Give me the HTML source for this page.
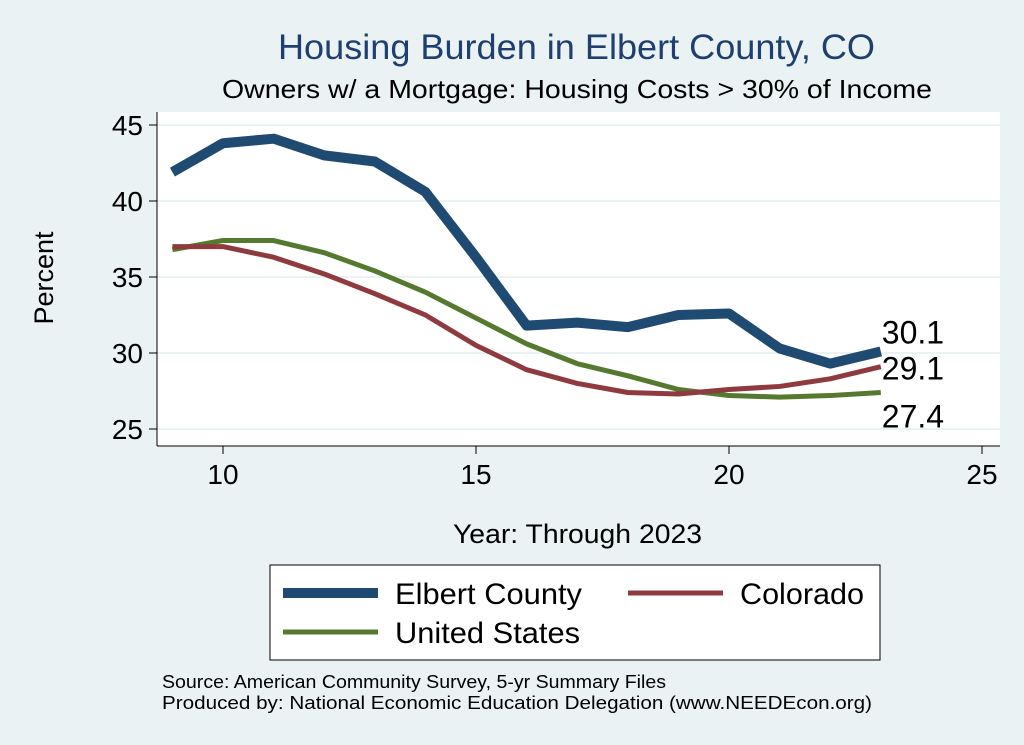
<!DOCTYPE html>
<html><head><meta charset="utf-8"><style>
body{margin:0;background:#eaf2f3;}
svg{display:block;font-family:"Liberation Sans",sans-serif;}
</style></head><body>
<svg id="c" width="1024" height="745">
<rect x="0" y="0" width="1024" height="745" fill="#eaf2f3"/>
<text x="278" y="59" font-size="35" fill="#1f3f6e" textLength="597" lengthAdjust="spacingAndGlyphs">Housing Burden in Elbert County, CO</text>
<text x="222" y="98" font-size="26" fill="#000" textLength="710" lengthAdjust="spacingAndGlyphs">Owners w/ a Mortgage: Housing Costs &gt; 30% of Income</text>
<rect x="157" y="112" width="843" height="334" fill="#fff"/>
<g id="grid"></g><g id="axes"></g><g id="series"></g>
<text x="53" y="278" font-size="27" text-anchor="middle" transform="rotate(-90 53 278)">Percent</text>
<text x="453" y="543" font-size="27" textLength="249" lengthAdjust="spacingAndGlyphs">Year: Through 2023</text>
<g>
<rect x="270" y="565" width="610" height="95" fill="#fff" stroke="#000" stroke-width="1"/>
<line x1="283" y1="593" x2="378" y2="593" stroke="#1f4a72" stroke-width="10"/>
<text x="395" y="604" font-size="30" textLength="187" lengthAdjust="spacingAndGlyphs">Elbert County</text>
<line x1="628" y1="593" x2="723" y2="593" stroke="#8f3a3e" stroke-width="5"/>
<text x="740" y="604" font-size="30" textLength="124" lengthAdjust="spacingAndGlyphs">Colorado</text>
<line x1="283" y1="632" x2="378" y2="632" stroke="#55792e" stroke-width="5"/>
<text x="395" y="643" font-size="30" textLength="185" lengthAdjust="spacingAndGlyphs">United States</text>
</g>
<text x="162" y="688" font-size="18" textLength="504" lengthAdjust="spacingAndGlyphs">Source: American Community Survey, 5-yr Summary Files</text>
<text x="162" y="709" font-size="18" textLength="710" lengthAdjust="spacingAndGlyphs">Produced by: National Economic Education Delegation (www.NEEDEcon.org)</text>
</svg>
<script>
const years=[9,10,11,12,13,14,15,16,17,18,19,20,21,22,23];
const elbert=[41.9,43.8,44.1,43.0,42.6,40.6,36.3,31.8,32.0,31.7,32.5,32.6,30.3,29.3,30.1];
const colorado=[37.0,37.0,36.3,35.2,33.9,32.5,30.5,28.9,28.0,27.4,27.3,27.6,27.8,28.3,29.1];
const us=[36.8,37.4,37.4,36.6,35.4,34.0,32.3,30.6,29.3,28.5,27.6,27.2,27.1,27.2,27.4];
const xTicks=[10,15,20,25];
const yTicks=[25,30,35,40,45];
const NS="http://www.w3.org/2000/svg";
function X(v){return 223+(v-10)*50.6;}
function Y(v){return 429-(v-25)*15.2;}
function mk(t,a,p){const e=document.createElementNS(NS,t);for(const k in a)e.setAttribute(k,a[k]);p.appendChild(e);return e;}
const grid=document.getElementById('grid'),axes=document.getElementById('axes'),ser=document.getElementById('series');
mk('line',{x1:157,y1:112,x2:157,y2:446,stroke:'#000','stroke-width':1},axes);
mk('line',{x1:157,y1:446,x2:1000,y2:446,stroke:'#000','stroke-width':1},axes);
yTicks.forEach(v=>{
 const g=mk('line',{x1:157,y1:Y(v),x2:1000,y2:Y(v),stroke:'#eaf2f3','stroke-width':2},grid);
 
 
 mk('line',{x1:149,y1:Y(v),x2:157,y2:Y(v),stroke:'#000'},axes);
 const t=mk('text',{x:143,y:Y(v)+10,'font-size':28,'text-anchor':'end'},axes);t.textContent=v;
 
 
});
xTicks.forEach(v=>{
 mk('line',{x1:X(v),y1:446,x2:X(v),y2:454,stroke:'#000'},axes);
 const t=mk('text',{x:X(v),y:484,'font-size':28,'text-anchor':'middle'},axes);t.textContent=v;
 
 
});
function line(d,c,w,name){
 const p=mk('polyline',{points:d.map((v,i)=>X(years[i])+','+Y(v)).join(' '),fill:'none',stroke:c,'stroke-width':w,'stroke-linejoin':'round'},ser);
 
 
}
line(us,'#55792e',5,'us-line');
line(colorado,'#8f3a3e',5,'colorado-line');
line(elbert,'#1f4a72',10,'elbert-line');
const n=years.length-1;
[[elbert,-8],[colorado,13],[us,35]].forEach(([d,off])=>{
 const t=mk('text',{x:X(years[n])+1,y:Y(d[n])+off,'font-size':32},ser);t.textContent=d[n].toFixed(1);
 
 
});
</script>
</body></html>
